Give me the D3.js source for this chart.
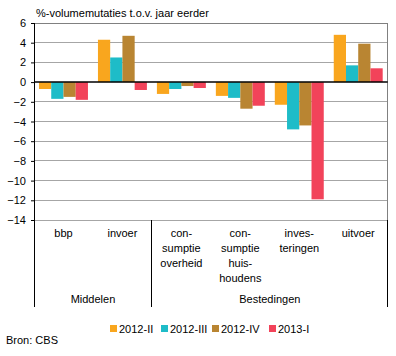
<!DOCTYPE html>
<html><head><meta charset="utf-8">
<script src="https://cdn.jsdelivr.net/npm/d3@7"></script>
<style>body{margin:0;background:#fff}svg text{font-family:Arial,"Liberation Sans",sans-serif;fill:#000}</style>
</head><body><svg id="c" width="396" height="356"></svg>
<script>
const categories = ["bbp","invoer","consumptie overheid","consumptie huishoudens","investeringen","uitvoer"];
const categoryLabels = [["bbp"],["invoer"],["con-","sumptie","overheid"],["con-","sumptie","huis-","houdens"],["inves-","teringen"],["uitvoer"]];
const series = ["2012-II","2012-III","2012-IV","2013-I"];
const colors = ["#F9A61E","#1EBCC8","#B98532","#F2435A"];
const v2012II  = [-0.7, 4.3, -1.2, -1.4, -2.3, 4.8];
const v2012III = [-1.7, 2.5, -0.7, -1.6, -4.8, 1.7];
const v2012IV  = [-1.5, 4.7, -0.4, -2.7, -4.4, 3.9];
const v2013I   = [-1.8, -0.8, -0.6, -2.4, -11.9, 1.4];
const groups = [{name:"Middelen", from:0, to:1},{name:"Bestedingen", from:2, to:5}];
const yTicks = [6,4,2,0,-2,-4,-6,-8,-10,-12,-14];
const title = "%-volumemutaties t.o.v. jaar eerder";
const source = "Bron: CBS";

const values = [v2012II, v2012III, v2012IV, v2013I];
const svg = d3.select("#c");
const L = 34, R = 387.7, T = 23, B = 220;
const y = d3.scaleLinear().domain([-14, 6]).range([B, T]);
const x = d3.scaleBand().domain(categories).range([L, R]);
const step = x.bandwidth();
const xs = d3.scaleBand().domain(series).range([5, step - 5]);

svg.append("text").attr("x", 36).attr("y", 17).attr("font-size", 11).text(title);

// gridlines
svg.append("g").selectAll("line").data(yTicks.filter(d => d !== 0)).join("line")
  .attr("x1", L).attr("x2", R).attr("y1", d => y(d)).attr("y2", d => y(d))
  .attr("stroke", "#a6a6a6").attr("stroke-width", 1).attr("shape-rendering", "crispEdges");
// top & right border
svg.append("line").attr("x1", L).attr("x2", R).attr("y1", T).attr("y2", T).attr("stroke", "#808080").attr("shape-rendering","crispEdges");
svg.append("line").attr("x1", R).attr("x2", R).attr("y1", T).attr("y2", B).attr("stroke", "#808080").attr("shape-rendering","crispEdges");

// bars
series.forEach((s, i) => {
  svg.append("g").selectAll("rect").data(categories).join("rect")
    .attr("x", c => x(c) + xs(s))
    .attr("width", xs.bandwidth())
    .attr("y", (c, j) => y(Math.max(0, values[i][j])))
    .attr("height", (c, j) => Math.abs(y(values[i][j]) - y(0)))
    .attr("fill", colors[i]);
});

// zero line
svg.append("line").attr("x1", L).attr("x2", R).attr("y1", y(0)).attr("y2", y(0))
  .attr("stroke", "#000").attr("stroke-width", 1.5);

// y axis
const yAxis = d3.axisLeft(y).tickValues(yTicks).tickSize(3).tickPadding(5).tickFormat(d3.format("d"));
const ga = svg.append("g").attr("transform", `translate(${L},0)`).call(yAxis);
ga.select(".domain").remove();
ga.selectAll("text").attr("font-size", 11).attr("fill", "#000").style("font-family", "Arial, 'Liberation Sans', sans-serif");
ga.selectAll("line").attr("stroke", "#000");
svg.append("line").attr("x1", L).attr("x2", L).attr("y1", T).attr("y2", 307).attr("stroke", "#000").attr("shape-rendering","crispEdges");

// category labels
categories.forEach((c, j) => {
  const t = svg.append("text").attr("text-anchor", "middle").attr("font-size", 11)
    .attr("x", x(c) + step / 2).attr("y", 237);
  categoryLabels[j].forEach((ln, k) => t.append("tspan").attr("x", x(c) + step / 2).attr("dy", k === 0 ? 0 : 15).text(ln));
});

// group separators & labels
groups.forEach(g => {
  const x0 = x(categories[g.from]), x1 = x(categories[g.to]) + step;
  svg.append("line").attr("x1", x1).attr("x2", x1).attr("y1", B).attr("y2", 307).attr("stroke", "#000").attr("shape-rendering","crispEdges");
  svg.append("text").attr("text-anchor", "middle").attr("font-size", 11)
    .attr("x", (x0 + x1) / 2).attr("y", 303).text(g.name);
});

// legend
const legX = [110, 161, 212, 269];
series.forEach((s, i) => {
  svg.append("rect").attr("x", legX[i]).attr("y", 325).attr("width", 7).attr("height", 7).attr("fill", colors[i]);
  svg.append("text").attr("x", legX[i] + 9).attr("y", 333).attr("font-size", 11).text(s);
});
svg.append("text").attr("x", 6).attr("y", 344).attr("font-size", 11).text(source);
</script></body></html>
